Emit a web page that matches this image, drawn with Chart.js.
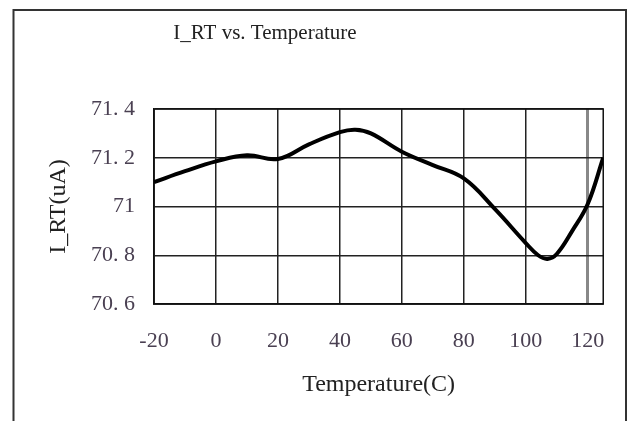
<!DOCTYPE html>
<html>
<head>
<meta charset="utf-8">
<script src="https://cdn.jsdelivr.net/npm/chart.js@4/dist/chart.umd.min.js"></script>
<style>
  html, body { margin: 0; padding: 0; background: #fff; }
  #wrap { width: 629px; height: 421px; }
</style>
</head>
<body>
<div id="wrap"><canvas id="chart" width="629" height="421"></canvas></div>
<script>
// temperature (C) and I_RT (uA)
const temps = [-20, -10, 0, 10, 20, 30, 40, 45, 50, 60, 70, 80, 90, 100, 104, 107, 110, 115, 120, 125];
const irt   = [71.10, 71.145, 71.185, 71.21, 71.195, 71.255, 71.305, 71.315, 71.30, 71.225, 71.17, 71.115, 70.99, 70.85, 70.80, 70.785, 70.805, 70.90, 71.01, 71.20];

const xTicks = [-20, 0, 20, 40, 60, 80, 100, 120];
const yTicks = [70.6, 70.8, 71, 71.2, 71.4];
const yTickLabels = ['70. 6', '70. 8', '71', '71. 2', '71. 4'];

const titleText = 'I_RT vs. Temperature';

const serif = "'Liberation Serif', 'DejaVu Serif', serif";

// frame + title drawn around the chart
const framePlugin = {
    id: 'frame',
    beforeDraw(chart) {
        const ctx = chart.ctx;
        ctx.save();
        ctx.fillStyle = '#fff';
        ctx.fillRect(0, 0, chart.width, chart.height);
        ctx.strokeStyle = '#333';
        ctx.lineWidth = 2;
        ctx.beginPath();
        ctx.moveTo(13.5, 430);
        ctx.lineTo(13.5, 10);
        ctx.lineTo(626, 10);
        ctx.lineTo(626, 430);
        ctx.stroke();
        ctx.fillStyle = '#222';
        ctx.font = '21px ' + serif;
        ctx.textAlign = 'center';
        ctx.textBaseline = 'middle';
        ctx.fillText(titleText, 265, 33);
        ctx.restore();
    },
    beforeDatasetsDraw(chart) {
        const a = chart.chartArea;
        const ctx = chart.ctx;
        ctx.save();
        ctx.strokeStyle = '#111';
        ctx.lineWidth = 1.5;
        ctx.strokeRect(a.left, a.top, a.right - a.left, a.bottom - a.top);
        ctx.restore();
    }
};

const ctx = document.getElementById('chart').getContext('2d');
const chart = new Chart(ctx, {
    type: 'line',
    data: {
        datasets: [{
            data: temps.map((t, i) => ({ x: t, y: irt[i] })),
            borderColor: '#000',
            borderWidth: 4,
            pointRadius: 0,
            tension: 0.4,
            fill: false
        }]
    },
    options: {
        responsive: false,
        animation: false,
        layout: { padding: { top: 109, right: 22, left: 0, bottom: 0 } },
        plugins: {
            legend: { display: false },
            title: { display: false },
            tooltip: { enabled: false }
        },
        scales: {
            x: {
                type: 'linear',
                min: -20,
                max: 125,
                afterBuildTicks: (s) => { s.ticks = xTicks.map(v => ({ value: v })); },
                afterFit: (s) => { s.height = 117; },
                border: { display: true, color: '#111', width: 1.5 },
                grid: {
                    drawTicks: false,
                    color: (c) => c.tick && c.tick.value === 120 ? '#888' : '#222',
                    lineWidth: (c) => c.tick && c.tick.value === 120 ? 3 : 1.5
                },
                ticks: {
                    padding: 24,
                    color: '#4a4052',
                    font: { family: serif, size: 22 },
                    maxRotation: 0,
                    autoSkip: false
                },
                title: {
                    display: true,
                    text: 'Temperature(C)',
                    color: '#222',
                    font: { family: serif, size: 24 },
                    padding: { top: 0, bottom: 22 }
                }
            },
            y: {
                min: 70.6,
                max: 71.4,
                afterBuildTicks: (s) => { s.ticks = yTicks.map(v => ({ value: v })); },
                afterFit: (s) => { s.width = 154; },
                border: { display: true, color: '#111', width: 1.5 },
                grid: { drawTicks: false, color: '#222', lineWidth: 1.5 },
                ticks: {
                    padding: 19,
                    color: '#4a4052',
                    font: { family: serif, size: 22 },
                    callback: (v, i) => yTickLabels[i]
                },
                title: {
                    display: true,
                    text: 'I_RT(uA)',
                    color: '#222',
                    font: { family: serif, size: 24 },
                    padding: { top: 44, bottom: 0 }
                }
            }
        }
    },
    plugins: [framePlugin]
});
</script>
</body>
</html>
